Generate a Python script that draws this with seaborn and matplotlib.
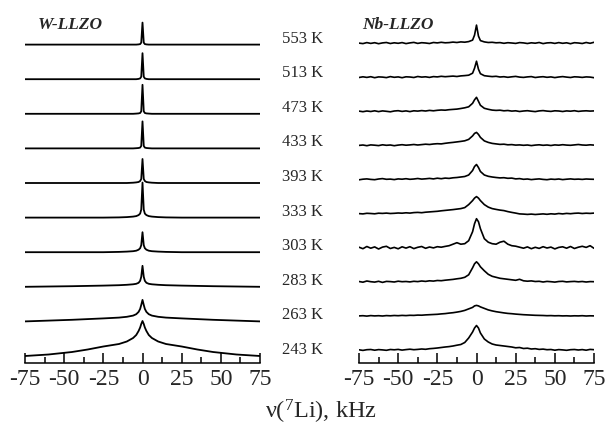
import numpy as np
import pandas as pd
import seaborn as sns
import matplotlib.pyplot as plt
from matplotlib.ticker import MultipleLocator
import matplotlib.transforms as mtransforms

## Data (intensity in arbitrary units, 0 = baseline)
temps = ["243 K", "263 K", "283 K", "303 K", "333 K", "393 K", "433 K", "473 K", "513 K", "553 K"]

# W-LLZO, sampled on a non-uniform grid (dense near the line centre)
w_x = [-75, -60, -45, -35, -25, -15, -10, -6, -4, -2.5, -1.5, -0.8, 0,
       0.8, 1.5, 2.5, 4, 6, 10, 15, 25, 35, 45, 60, 75]
w_243 = [0, 1.5, 4, 6.5, 9.5, 12, 14.5, 18, 21, 25, 28.5, 32, 35,
         32, 28.5, 25, 21, 18, 14.5, 12, 9.5, 6.5, 4, 1.5, 0]
w_263 = [0, 0.8, 1.6, 2.3, 3, 3.8, 4.6, 5.8, 7.2, 9.5, 12.5, 16.5, 21.5,
         16.5, 12.5, 9.5, 7.2, 5.8, 4.6, 3.8, 3, 2.3, 1.6, 0.8, 0]
w_283 = [0, 0.3, 0.6, 0.9, 1.2, 1.6, 2, 2.5, 3, 4, 6, 10, 21,
         10, 6, 4, 3, 2.5, 2, 1.6, 1.2, 0.9, 0.6, 0.3, 0]
w_303 = [0, 0, 0, 0, 0, 0.3, 0.6, 1, 1.5, 2.5, 4, 7, 20,
         7, 4, 2.5, 1.5, 1, 0.6, 0.3, 0, 0, 0, 0, 0]
w_333 = [0, 0, 0, 0, 0, 0.2, 0.5, 1, 1.5, 2.5, 4, 8, 35,
         8, 4, 2.5, 1.5, 1, 0.5, 0.2, 0, 0, 0, 0, 0]
w_393 = [0, 0, 0, 0, 0, 0, 0, 0.3, 0.6, 1, 2, 4, 24,
         4, 2, 1, 0.6, 0.3, 0, 0, 0, 0, 0, 0, 0]
w_433 = [0, 0, 0, 0, 0, 0, 0, 0, 0.2, 0.4, 0.8, 2.5, 27,
         2.5, 0.8, 0.4, 0.2, 0, 0, 0, 0, 0, 0, 0, 0]
w_473 = [0, 0, 0, 0, 0, 0, 0, 0, 0.2, 0.4, 0.8, 2.5, 29,
         2.5, 0.8, 0.4, 0.2, 0, 0, 0, 0, 0, 0, 0, 0]
w_513 = [0, 0, 0, 0, 0, 0, 0, 0, 0, 0.3, 0.8, 2.5, 26,
         2.5, 0.8, 0.3, 0, 0, 0, 0, 0, 0, 0, 0, 0]
w_553 = [0, 0, 0, 0, 0, 0, 0, 0, 0, 0.2, 0.5, 2, 22,
         2, 0.5, 0.2, 0, 0, 0, 0, 0, 0, 0, 0, 0]

# Nb-LLZO, sampled every 2.5 kHz plus +-1.25 kHz
nb_x = [-75, -72.5, -70, -67.5, -65, -62.5, -60, -57.5, -55, -52.5, -50, -47.5,
        -45, -42.5, -40, -37.5, -35, -32.5, -30, -27.5, -25, -22.5, -20, -17.5,
        -15, -12.5, -10, -7.5, -5, -2.5, -1.25, 0, 1.25, 2.5, 5, 7.5, 10, 12.5,
        15, 17.5, 20, 22.5, 25, 27.5, 30, 32.5, 35, 37.5, 40, 42.5, 45, 47.5,
        50, 52.5, 55, 57.5, 60, 62.5, 65, 67.5, 70, 72.5, 75]
nb_243 = [0.2, -0.4, 0.3, 0.5, -0.2, 0.4, 0.1, -0.3, 0.5, 0.2, 0.6, -0.1, 0.4, 0.8, 0.3,
          0.6, 1.0, 0.7, 1.3, 1.6, 2.0, 2.5, 3.0, 3.4, 4.0, 4.8, 5.5, 7.5, 12,
          18, 22, 24.5, 22, 17,
          11, 8, 6.0, 5.0, 4.5, 4.0, 3.5, 3.0, 2.2, 2.5, 1.5, 1.8, 1.0, 1.3, 0.6,
          0.9, 0.3, 0.5, -0.2, 0.4, 0.1, -0.3, 0.3, 0.5, 0, 0.4, -0.2, 0.6, 0.3]
nb_263 = [0, 0.2, -0.2, 0.3, 0, 0.2, -0.1, 0.3, 0.1, 0.4, 0.2, 0.5, 0.3, 0.6, 0.5,
          0.8, 0.7, 1.0, 1.2, 1.4, 1.6, 2.0, 2.3, 2.8, 3.2, 3.8, 4.5, 5.5, 7.0,
          8.5, 10, 10.5, 10, 9,
          7.5, 6.0, 5.0, 4.2, 3.6, 3.0, 2.5, 2.2, 1.8, 1.5, 1.2, 1.0, 0.8, 0.6, 0.5,
          0.4, 0.2, 0.3, 0.1, 0.2, 0, 0.1, -0.1, 0.1, 0, 0.2, -0.1, 0.1, 0]
nb_283 = [0.3, -0.4, 0.8, 0.1, -0.3, 0.5, -0.6, 0.4, 0.2, -0.2, 0.6, 0.1, 0.3, -0.1, 0.5,
          0.2, 0.8, 0.4, 1.0, 0.7, 1.3, 1.1, 1.6, 2.0, 2.4, 3.0, 3.5, 4.5, 7.0,
          14, 18, 20, 18, 15,
          11, 7.5, 5.5, 4.5, 3.5, 3.0, 2.5, 2.0, 1.5, 2.5, 1.0, 0.6, 0.9, 0.3, 0.5,
          -0.2, 0.4, 0.1, -0.3, 0.3, 0.5, -0.1, 0.2, 0.4, 0, 0.3, -0.2, 0.2, 0.1]
nb_303 = [0.5, -1.0, 1.2, -0.5, 0.8, -1.3, 0.6, 1.4, -0.8, 0.3, -1.1, 0.9, -0.4, 1.0, -0.9,
          0.4, 1.2, -0.6, 0.7, -0.2, 1.0, 0.5, 1.3, 2.0, 3.5, 5.0, 3.5, 4.0, 7.0,
          16, 24, 29, 26, 19,
          9.0, 5.5, 4.0, 3.5, 5.5, 6.5, 3.5, 2.0, 1.5, 0.5, -0.5, 0.8, -1.0, 0.4, -0.7,
          1.0, -0.3, 0.6, -1.2, 0.3, 0.9, -0.5, 1.2, -0.8, 0.5, 1.4, 0.3, 2.0, -0.6]
nb_333 = [0, -0.3, 0.3, 0.1, -0.2, 0.4, 0.2, 0.5, 0.1, 0.3, 0.6, 0.4, 0.8, 0.5, 1.0,
          1.2, 0.9, 1.4, 1.7, 2.0, 2.3, 2.8, 3.2, 3.6, 4.0, 4.5, 5.0, 6.0, 9.0,
          13, 15.5, 17, 15.5, 13,
          9.0, 6.5, 5.0, 4.2, 3.5, 3.0, 2.0, 1.2, 0.5, -0.3, -0.5, -0.8, -0.5, -0.9, -0.6,
          -0.3, -0.7, -0.2, -0.5, 0.1, -0.3, 0.2, -0.1, 0.3, 0.5, 0.1, 0.4, 0.2, 0.5]
nb_393 = [-0.3, 0.3, 0.6, 0.1, -0.2, 0.5, 0.9, 0.2, 0.4, -0.1, 0.6, 0.3, 0.8, 0.2, 0.5,
          1.0, 0.4, 0.7, 1.1, 0.6, 1.3, 0.8, 1.4, 1.1, 1.7, 2.0, 2.5, 3.0, 4.5,
          9, 13, 15, 12, 8,
          4.5, 3.2, 2.5, 2.0, 1.6, 1.8, 1.2, 1.4, 0.6, 0.9, 0.2, 0.5, -0.1, 0.3, 0.6,
          0.1, -0.2, 0.4, 0.1, 0.5, -0.1, 0.3, 0.6, 0.2, 0.4, 0.1, 0.5, 0.3, 0.2]
nb_433 = [0, 0.4, -0.3, 0.5, 0.2, -0.2, 0.6, 0.1, 0.4, -0.3, 0.3, 0.7, 0.2, 0.5, 0.9,
          0.4, 0.8, 1.2, 0.9, 1.4, 1.7, 1.5, 2.1, 2.6, 3.0, 3.5, 4.0, 4.6, 6.0,
          9.5, 12, 13, 11, 8,
          4.5, 3.0, 2.0, 1.5, 1.0, 1.2, 0.6, 0.8, 0.3, 0.5, 0.1, 0.4, -0.2, 0.3, 0.6,
          0.1, 0.4, -0.1, 0.5, 0.2, 0.7, 0.3, 0.1, 0.5, 0.9, 0.4, 0.2, 0.6, 0.3]
nb_473 = [0.2, -0.4, 0.3, -0.2, 0.5, -0.3, 0.4, 0, -0.5, 0.3, 0.6, -0.1, 0.4, -0.3, 0.5,
          0.2, 0.7, 0.3, 0.9, 0.5, 1.0, 1.3, 1.1, 1.6, 1.9, 2.2, 2.8, 3.5, 4.5,
          8, 11.5, 14, 10, 6,
          3.0, 2.0, 1.2, 0.9, 1.1, 0.5, 0.8, 0.2, 0.5, -0.2, 0.3, 0.6, 0.1, -0.3, 0.4,
          0.7, 0.2, -0.1, 0.5, 0.3, -0.2, 0.4, 0.1, 0.6, -0.1, 0.3, 0.5, 0.2, 0.4]
nb_513 = [-0.3, 0.4, -0.2, 0.5, -0.5, 0.3, 0.1, -0.4, 0.6, -0.1, 0.3, -0.5, 0.4, 0.2, -0.3,
          0.7, 0.1, 0.4, -0.2, 0.6, 0.3, 0.9, 0.5, 0.8, 1.1, 0.7, 1.3, 1.6, 2.0,
          4, 9, 16, 8, 3.5,
          1.5, 1.0, 0.6, 0.9, 0.2, 0.5, -0.1, 0.4, 0.8, 0.1, -0.2, 0.3, 0.6, -0.3, 0.2,
          0.5, -0.1, 0.3, -0.4, 0.2, 0.6, 0.1, -0.3, 0.4, 0.2, -0.2, 0.3, 0.1, -0.5]
nb_553 = [0, -0.5, 0.5, -0.3, 0.4, -0.6, 0.2, 0.6, -0.4, 0.3, -0.2, 0.5, -0.5, 0.2, 0.7,
          -0.3, 0.4, 0.1, -0.4, 0.6, 0.2, 0.8, 0.3, 0.5, 1.0, 0.6, 1.2, 0.9, 1.5,
          3, 8, 18, 7, 2.5,
          1.2, 0.6, 0.8, 0.3, 0.5, -0.2, 0.4, 0.1, -0.3, 0.5, 0.2, -0.4, 0.3, -0.1, 0.6,
          -0.5, 0.2, 0.4, -0.3, 0.5, -0.2, 0.3, -0.6, 0.4, 0.1, -0.4, 0.6, -0.2, 0.8]

w_spectra = [w_243, w_263, w_283, w_303, w_333, w_393, w_433, w_473, w_513, w_553]
nb_spectra = [nb_243, nb_263, nb_283, nb_303, nb_333, nb_393, nb_433, nb_473, nb_513, nb_553]

## Plot
sns.set_theme(style="white")
plt.rcParams["font.family"] = ["Liberation Serif", "DejaVu Serif"]
plt.rcParams["mathtext.fontset"] = "custom"
plt.rcParams["mathtext.rm"] = "Liberation Serif"
plt.rcParams["axes.unicode_minus"] = False

fig = plt.figure(figsize=(6.08, 4.32), dpi=100)
ax_w = fig.add_axes([25 / 608, 1 - 363 / 432, 235 / 608, 363 / 432])
ax_nb = fig.add_axes([359 / 608, 1 - 363 / 432, 235 / 608, 363 / 432])

# stack offsets
w_off = [7 + 34.6 * i for i in range(len(temps))]
nb_off = [13 + 34.1 * i for i in range(len(temps))]

for i in range(len(temps)):
    sns.lineplot(x=w_x, y=np.array(w_spectra[i]) + w_off[i], ax=ax_w,
                 color="black", lw=1.3, sort=False)
    sns.lineplot(x=nb_x, y=np.array(nb_spectra[i]) + nb_off[i], ax=ax_nb,
                 color="black", lw=1.2, sort=False)

for ax in [ax_w, ax_nb]:
    ax.set_xlim(-75, 75)
    ax.set_ylim(0, 363)
    ax.set_yticks([])
    ax.set_xticks([-75, -50, -25, 0, 25, 50, 75])
    ax.xaxis.set_minor_locator(MultipleLocator(12.5))
    ax.tick_params(axis="x", which="major", direction="in", length=7, width=1.1,
                   labelsize=17, pad=4, bottom=True, color="black")
    ax.tick_params(axis="x", which="minor", direction="in", length=4, width=1.1,
                   bottom=True, color="black")
    for s in ["left", "right", "top"]:
        ax.spines[s].set_visible(False)
    ax.spines["bottom"].set_color("black")
    ax.spines["bottom"].set_linewidth(1.1)
    ax.patch.set_alpha(0)
    ax.set_xlabel("")
    ax.set_ylabel("")

# temperature labels
trans = mtransforms.blended_transform_factory(ax_w.transAxes, ax_w.transData)
for i, t in enumerate(temps):
    ax_w.text(1.094, w_off[i] + 6, t, transform=trans, ha="left", va="center",
              fontsize=12, clip_on=False)

ax_w.text(0.055, 338, "W-LLZO", transform=trans, ha="left", va="center",
          fontsize=12.5, fontweight="bold", fontstyle="italic")
trans_nb = mtransforms.blended_transform_factory(ax_nb.transAxes, ax_nb.transData)
ax_nb.text(0.013, 338, "Nb-LLZO", transform=trans_nb, ha="left", va="center",
           fontsize=12.5, fontweight="bold", fontstyle="italic")

fig.text(321 / 608, 1 - 412 / 432, "ν($\\mathregular{^7}$Li), kHz", ha="center",
         va="center", fontsize=17.5)

plt.savefig("out.png", dpi=100)
